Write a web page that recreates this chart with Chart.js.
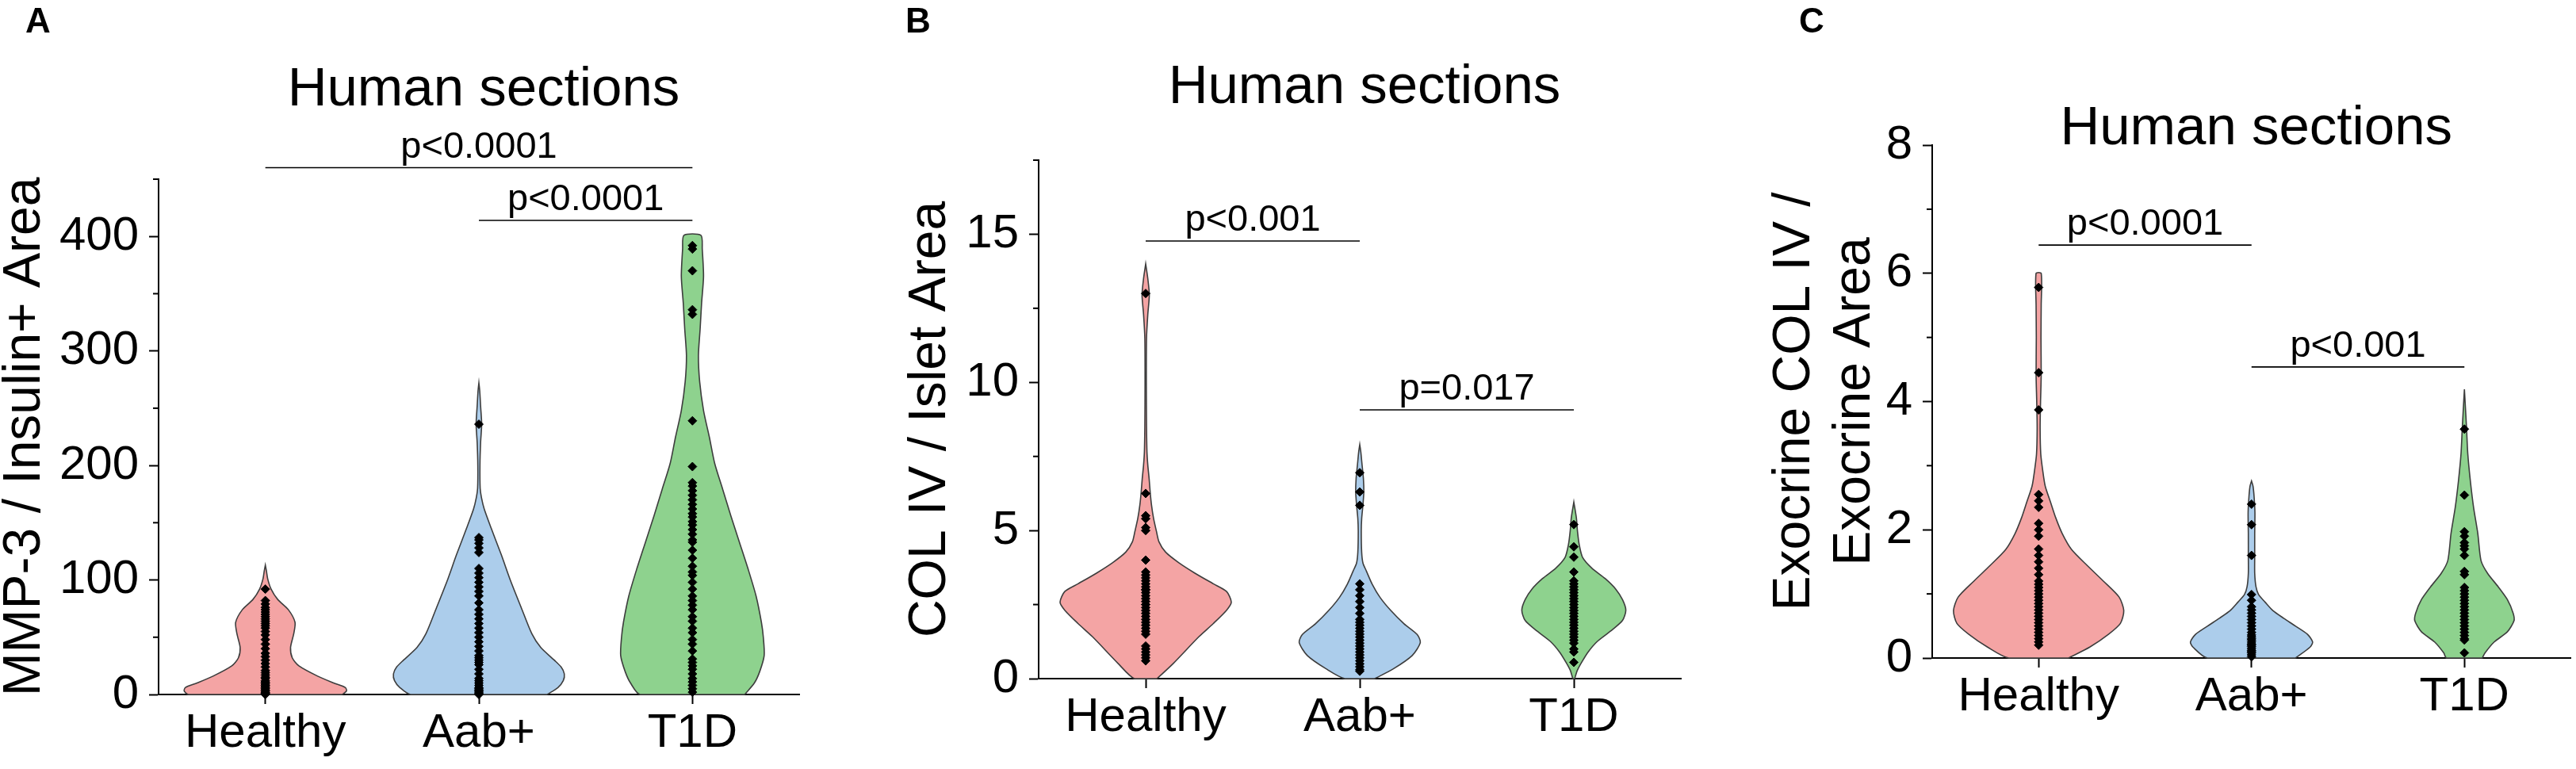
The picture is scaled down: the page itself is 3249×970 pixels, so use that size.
<!DOCTYPE html>
<html>
<head>
<meta charset="utf-8">
<script src="https://cdn.jsdelivr.net/npm/chart.js@4.4.1/dist/chart.umd.min.js"></script>
<style>
  html, body { margin: 0; padding: 0; background: #fff; }
  body { width: 3249px; height: 970px; position: relative; overflow: hidden; }
  canvas { position: absolute; top: 0; }
</style>
</head>
<body>
<canvas id="panelA" width="1080" height="970" style="left:0px"></canvas>
<canvas id="panelB" width="1080" height="970" style="left:1080px"></canvas>
<canvas id="panelC" width="1089" height="970" style="left:2160px"></canvas>
<script>
// ---------- categories ----------
const categories = ['Healthy', 'Aab+', 'T1D'];

// ---------- Panel A : MMP-3 / Insulin+ Area ----------
const mmp3Healthy = [0, 0.5, 1, 1.5, 2, 3, 4, 5, 6, 7, 8, 9, 10, 11, 12, 14, 15, 17, 19, 21, 24, 27, 30, 33, 36, 40, 44, 48, 52, 55, 58, 60, 62, 64, 66, 68, 70, 72, 74, 76, 79, 82, 92];
const mmp3Aab = [0, 1, 2, 3, 4, 5, 6, 8, 10, 12, 14, 18, 22, 26, 28, 30, 32, 34, 38, 42, 46, 50, 54, 58, 62, 66, 70, 74, 80, 86, 90, 94, 98, 102, 106, 110, 124, 128, 132, 135, 137, 236];
const mmp3T1D = [2, 5, 8, 11, 14, 18, 22, 25, 28, 31, 38, 44, 48, 54, 58, 64, 68, 74, 78, 82, 86, 92, 98, 104, 107, 112, 119, 126, 133, 135, 140, 144, 148, 151, 155, 158, 162, 166, 170, 174, 178, 182, 185, 199, 239, 332, 336, 370, 389, 392];
// violin outlines: value levels and half widths (fraction of category spacing)
const mmp3HealthyLevels = [0, 3, 6, 10, 16, 25, 32, 41, 53, 63, 74, 83, 92, 101, 108, 113];
const mmp3HealthyWidths = [0.36, 0.38, 0.375, 0.32, 0.245, 0.157, 0.126, 0.118, 0.133, 0.139, 0.108, 0.058, 0.027, 0.011, 0.005, 0];
const mmp3AabLevels = [0, 6, 12, 18, 24, 30, 41, 53, 76, 99, 122, 145, 162, 172, 180, 200, 220, 236, 252, 265, 272];
const mmp3AabWidths = [0.32, 0.37, 0.395, 0.40, 0.385, 0.353, 0.29, 0.248, 0.198, 0.149, 0.105, 0.058, 0.025, 0.012, 0.006, 0.005, 0.008, 0.013, 0.008, 0.004, 0];
const mmp3T1DLevels = [0, 10, 20, 34, 50, 63, 86, 110, 133, 156, 179, 202, 225, 248, 273, 296, 319, 342, 365, 389, 401];
const mmp3T1DWidths = [0.245, 0.29, 0.315, 0.336, 0.332, 0.323, 0.298, 0.26, 0.22, 0.18, 0.142, 0.104, 0.079, 0.052, 0.034, 0.028, 0.036, 0.043, 0.052, 0.046, 0.04];
const mmp3Ticks = [0, 100, 200, 300, 400];
const mmp3MinorTicks = [50, 150, 250, 350, 450];
const mmp3BracketPairs = [[0, 2], [1, 2]];
const mmp3BracketLevels = [460, 414];
const mmp3BracketLabels = ['p<0.0001', 'p<0.0001'];

// ---------- Panel B : COL IV / Islet Area ----------
const colHealthy = [0.6, 0.7, 0.8, 0.9, 1.0, 1.1, 1.5, 1.6, 1.7, 1.8, 1.9, 2.0, 2.1, 2.2, 2.3, 2.4, 2.5, 2.5, 2.6, 2.7, 2.8, 2.9, 3.0, 3.0, 3.1, 3.2, 3.3, 3.4, 3.5, 3.6, 4.0, 5.0, 5.1, 5.4, 5.5, 6.25, 13.0];
const colAab = [0.25, 0.3, 0.4, 0.5, 0.6, 0.7, 0.8, 0.9, 1.0, 1.1, 1.2, 1.3, 1.4, 1.5, 1.6, 1.7, 1.8, 1.9, 2.0, 2.2, 2.4, 2.6, 2.8, 3.0, 3.2, 5.85, 6.3, 6.95];
const colT1D = [0.55, 0.9, 1.0, 1.2, 1.3, 1.4, 1.5, 1.6, 1.7, 1.8, 1.9, 2.0, 2.1, 2.2, 2.3, 2.4, 2.5, 2.6, 2.7, 2.8, 2.9, 3.0, 3.1, 3.2, 3.3, 3.6, 4.1, 4.45, 5.2];
const colHealthyLevels = [0, 0.52, 1.41, 1.86, 2.31, 2.58, 2.94, 3.2, 3.56, 3.91, 4.27, 4.62, 4.98, 5.4, 5.87, 6.3, 6.76, 7.2, 7.65, 8.5, 10, 11.5, 12.3, 12.95, 13.5, 14.0];
const colHealthyWidths = [0.053, 0.13, 0.248, 0.316, 0.378, 0.40, 0.378, 0.316, 0.23, 0.155, 0.093, 0.062, 0.05, 0.037, 0.027, 0.021, 0.016, 0.01, 0.006, 0.004, 0.003, 0.004, 0.01, 0.017, 0.01, 0];
const colAabLevels = [0, 0.33, 0.78, 1.22, 1.49, 1.85, 2.3, 2.74, 3.19, 3.63, 3.9, 4.26, 4.98, 5.4, 5.87, 6.3, 6.76, 7.2, 7.65, 7.9];
const colAabWidths = [0.07, 0.157, 0.245, 0.283, 0.268, 0.207, 0.145, 0.095, 0.058, 0.031, 0.015, 0.009, 0.007, 0.009, 0.015, 0.019, 0.017, 0.011, 0.005, 0];
const colT1DLevels = [0, 0.27, 0.53, 0.89, 1.25, 1.6, 1.96, 2.31, 2.67, 3.02, 3.38, 3.73, 4.09, 4.53, 4.98, 5.42, 5.96];
const colT1DWidths = [0.004, 0.016, 0.035, 0.066, 0.109, 0.171, 0.227, 0.243, 0.227, 0.196, 0.146, 0.084, 0.041, 0.025, 0.017, 0.012, 0];
const colTicks = [0, 5, 10, 15];
const colMinorTicks = [2.5, 7.5, 12.5, 17.5];
const colBracketPairs = [[0, 1], [1, 2]];
const colBracketLevels = [14.77, 9.07];
const colBracketLabels = ['p<0.001', 'p=0.017'];

// ---------- Panel C : Exocrine COL IV / Exocrine Area ----------
const exoHealthy = [0.2, 0.25, 0.3, 0.35, 0.4, 0.45, 0.5, 0.55, 0.6, 0.65, 0.7, 0.75, 0.8, 0.85, 0.9, 0.95, 1.0, 1.05, 1.1, 1.15, 1.2, 1.3, 1.4, 1.5, 1.6, 1.7, 1.9, 2.0, 2.1, 2.35, 2.45, 2.55, 3.87, 4.45, 5.78];
const exoAab = [0.02, 0.05, 0.08, 0.1, 0.12, 0.15, 0.18, 0.2, 0.22, 0.25, 0.28, 0.3, 0.33, 0.36, 0.4, 0.45, 0.5, 0.55, 0.6, 0.65, 0.7, 0.75, 0.8, 0.9, 0.99, 1.6, 2.08, 2.4];
const exoT1D = [0.08, 0.28, 0.3, 0.35, 0.4, 0.45, 0.5, 0.55, 0.6, 0.65, 0.7, 0.75, 0.8, 0.85, 0.9, 0.95, 1.0, 1.05, 1.1, 1.3, 1.35, 1.6, 1.7, 1.75, 1.8, 1.9, 1.97, 2.54, 3.57];
const exoHealthyLevels = [0, 0.17, 0.37, 0.54, 0.74, 0.95, 1.2, 1.44, 1.69, 1.94, 2.19, 2.43, 2.68, 2.93, 3.18, 3.59, 4.0, 4.41, 5.0, 5.5, 6.0];
const exoHealthyWidths = [0.14, 0.24, 0.328, 0.384, 0.40, 0.378, 0.304, 0.229, 0.155, 0.111, 0.08, 0.056, 0.031, 0.019, 0.01, 0.007, 0.009, 0.012, 0.011, 0.012, 0.012];
const exoAabLevels = [0, 0.17, 0.25, 0.37, 0.5, 0.62, 0.74, 0.87, 0.99, 1.11, 1.32, 1.61, 1.94, 2.27, 2.52, 2.68, 2.76];
const exoAabWidths = [0.207, 0.275, 0.287, 0.263, 0.206, 0.151, 0.1, 0.064, 0.033, 0.021, 0.015, 0.015, 0.015, 0.016, 0.012, 0.007, 0];
const exoT1DLevels = [0, 0.08, 0.25, 0.41, 0.58, 0.7, 0.91, 1.11, 1.32, 1.52, 1.94, 2.35, 2.76, 3.18, 3.59, 4.19];
const exoT1DWidths = [0.084, 0.097, 0.14, 0.202, 0.233, 0.229, 0.202, 0.159, 0.109, 0.078, 0.063, 0.043, 0.028, 0.016, 0.01, 0];
const exoTicks = [0, 2, 4, 6, 8];
const exoMinorTicks = [1, 3, 5, 7];
const exoBracketPairs = [[0, 1], [1, 2]];
const exoBracketLevels = [6.44, 4.54];
const exoBracketLabels = ['p<0.0001', 'p<0.001'];

// ---------- styling ----------
const FONT = '"Liberation Sans", Arial, Helvetica, sans-serif';
Chart.defaults.font.family = FONT;
Chart.defaults.color = '#000';
const fillColors = ['#f4a4a4', '#accdeb', '#8ed28e'];

function violin(idx, levels, widths) {
  const right = levels.map((v, k) => ({ x: idx + widths[k], y: v }));
  const left = levels.map((v, k) => ({ x: idx - widths[k], y: v })).reverse();
  const pts = right.concat(left);
  pts.push({ x: pts[0].x, y: pts[0].y });
  return {
    data: pts, showLine: true, fill: 'shape',
    backgroundColor: fillColors[idx], borderColor: '#3d3d3d', borderWidth: 1.6,
    pointRadius: 0, pointHoverRadius: 0, tension: 0.25, order: 2, clip: false
  };
}
function dots(idx, values) {
  return {
    data: values.map(v => ({ x: idx, y: v })), showLine: false,
    pointStyle: 'rectRot', pointRadius: 5.5, backgroundColor: '#000',
    borderColor: '#000', borderWidth: 1, order: 1, clip: false
  };
}
function decor(p) {
  return {
    id: 'decor' + p.letter,
    afterDraw(chart) {
      const ctx = chart.ctx, xs = chart.scales.x, ys = chart.scales.y, a = chart.chartArea;
      ctx.save();
      ctx.strokeStyle = '#000';
      ctx.fillStyle = '#000';
      ctx.lineWidth = 2;
      p.minor.forEach(v => {
        const py = ys.getPixelForValue(v);
        ctx.beginPath(); ctx.moveTo(a.left - 7, py); ctx.lineTo(a.left, py); ctx.stroke();
      });
      ctx.lineWidth = 1.6;
      ctx.font = '47px ' + FONT;
      ctx.textAlign = 'center';
      ctx.textBaseline = 'alphabetic';
      p.pairs.forEach((pr, k) => {
        const x1 = xs.getPixelForValue(pr[0]), x2 = xs.getPixelForValue(pr[1]);
        const py = ys.getPixelForValue(p.levels[k]);
        ctx.beginPath(); ctx.moveTo(x1, py); ctx.lineTo(x2, py); ctx.stroke();
        ctx.fillText(p.labels[k], (x1 + x2) / 2, py - 13);
      });
      ctx.font = '69px ' + FONT;
      ctx.fillText('Human sections', (a.left + a.right) / 2 + 6, p.titleBaseline);
      ctx.font = 'bold 44px ' + FONT;
      ctx.textAlign = 'left';
      ctx.fillText(p.letter, a.left - 168, 41);
      ctx.restore();
    }
  };
}
function makePanel(id, p) {
  const axisGrid = { drawOnChartArea: false, drawTicks: true, tickLength: 12, tickWidth: 2, tickColor: '#000' };
  const axisBorder = { display: true, color: '#000', width: 2 };
  return new Chart(document.getElementById(id), {
    type: 'scatter',
    data: {
      datasets: [
        violin(0, p.v[0][0], p.v[0][1]), violin(1, p.v[1][0], p.v[1][1]), violin(2, p.v[2][0], p.v[2][1]),
        dots(0, p.d[0]), dots(1, p.d[1]), dots(2, p.d[2])
      ]
    },
    options: {
      responsive: false, animation: false, events: [],
      layout: { padding: { top: p.top, right: p.right, bottom: 0, left: 0 } },
      plugins: { legend: { display: false }, tooltip: { enabled: false }, title: { display: false } },
      scales: {
        x: {
          type: 'linear', min: -0.5, max: 2.5,
          afterBuildTicks: s => { s.ticks = categories.map((c, i) => ({ value: i })); },
          afterFit: s => { s.height = p.xHeight; },
          ticks: { callback: v => categories[v], font: { size: 60 }, padding: 1, maxRotation: 0, autoSkip: false, color: '#000' },
          grid: axisGrid, border: axisBorder
        },
        y: {
          type: 'linear', min: 0, max: p.yMax,
          afterBuildTicks: s => { s.ticks = p.ticks.map(v => ({ value: v })); },
          afterFit: s => { s.width = p.yWidth; },
          ticks: { font: { size: 60 }, padding: 13, color: '#000' },
          grid: axisGrid, border: axisBorder,
          title: { display: true, text: p.yTitle, color: '#000', font: { size: 66, lineHeight: 1.15 }, padding: { top: p.titlePad, bottom: 0 } }
        }
      }
    },
    plugins: [decor(p)]
  });
}

makePanel('panelA', {
  letter: 'A', yTitle: 'MMP-3 / Insulin+ Area', yMax: 450, ticks: mmp3Ticks, minor: mmp3MinorTicks,
  v: [[mmp3HealthyLevels, mmp3HealthyWidths], [mmp3AabLevels, mmp3AabWidths], [mmp3T1DLevels, mmp3T1DWidths]],
  d: [mmp3Healthy, mmp3Aab, mmp3T1D],
  pairs: mmp3BracketPairs, levels: mmp3BracketLevels, labels: mmp3BracketLabels,
  top: 226, right: 72, yWidth: 200, xHeight: 94, titlePad: -6, titleBaseline: 133
});
makePanel('panelB', {
  letter: 'B', yTitle: 'COL IV / Islet Area', yMax: 17.5, ticks: colTicks, minor: colMinorTicks,
  v: [[colHealthyLevels, colHealthyWidths], [colAabLevels, colAabWidths], [colT1DLevels, colT1DWidths]],
  d: [colHealthy, colAab, colT1D],
  pairs: colBracketPairs, levels: colBracketLevels, labels: colBracketLabels,
  top: 202, right: 40, yWidth: 230, xHeight: 114, titlePad: 56, titleBaseline: 130
});
makePanel('panelC', {
  letter: 'C', yTitle: ['Exocrine COL IV /', 'Exocrine Area'], yMax: 8, ticks: exoTicks, minor: exoMinorTicks,
  v: [[exoHealthyLevels, exoHealthyWidths], [exoAabLevels, exoAabWidths], [exoT1DLevels, exoT1DWidths]],
  d: [exoHealthy, exoAab, exoT1D],
  pairs: exoBracketPairs, levels: exoBracketLevels, labels: exoBracketLabels,
  top: 183, right: 2, yWidth: 277, xHeight: 140, titlePad: 66, titleBaseline: 182
});
</script>
</body>
</html>
